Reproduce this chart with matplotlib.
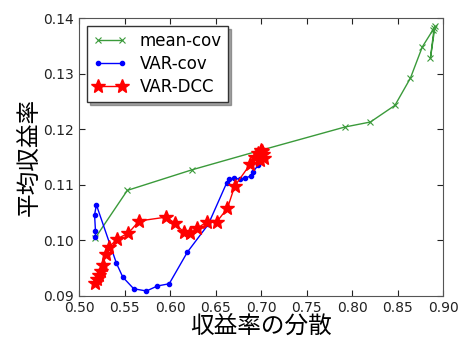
import matplotlib
matplotlib.use("Agg")
import matplotlib.pyplot as plt

plt.rcParams["font.family"] = ["Noto Sans CJK JP", "DejaVu Sans"]

# ----------------------------------------------------------------------
# Data (variance of return, mean return)
# ----------------------------------------------------------------------
mean_cov_x = [0.518, 0.553, 0.624, 0.695, 0.792, 0.820, 0.847, 0.864,
              0.877, 0.890, 0.886, 0.891, 0.889]
mean_cov_y = [0.1005, 0.1090, 0.1127, 0.1160, 0.1204, 0.1213, 0.1243, 0.1292,
              0.1348, 0.1382, 0.1328, 0.1385, 0.1378]

var_cov_x = [0.518, 0.518, 0.517, 0.519, 0.541, 0.548, 0.560, 0.574,
             0.586, 0.599, 0.619, 0.642, 0.662, 0.665, 0.670, 0.677,
             0.682, 0.689, 0.691, 0.697, 0.699]
var_cov_y = [0.1006, 0.1017, 0.1046, 0.1064, 0.0959, 0.0934, 0.0913, 0.0909,
             0.0918, 0.0922, 0.0979, 0.1029, 0.1103, 0.1110, 0.1112, 0.1110,
             0.1112, 0.1116, 0.1123, 0.1136, 0.1141]

var_dcc_x = [0.518, 0.520, 0.522, 0.524, 0.526, 0.530, 0.533, 0.542,
             0.554, 0.566, 0.596, 0.605, 0.615, 0.622, 0.630, 0.640,
             0.651, 0.663, 0.671, 0.688, 0.693, 0.697, 0.700, 0.702,
             0.703, 0.699, 0.701]
var_dcc_y = [0.0923, 0.0931, 0.0938, 0.0945, 0.0956, 0.0976, 0.0988, 0.1003,
             0.1013, 0.1035, 0.1042, 0.1031, 0.1015, 0.1013, 0.1022, 0.1033,
             0.1033, 0.1058, 0.1098, 0.1137, 0.1150, 0.1158, 0.1162, 0.1155,
             0.1148, 0.1145, 0.1160]

x_ticks = [0.50, 0.55, 0.60, 0.65, 0.70, 0.75, 0.80, 0.85, 0.90]
y_ticks = [0.09, 0.10, 0.11, 0.12, 0.13, 0.14]

# ----------------------------------------------------------------------
# Plot
# ----------------------------------------------------------------------
fig = plt.figure(figsize=(4.68, 3.41), dpi=100)
ax = fig.add_axes([0.169, 0.132, 0.778, 0.815])

ax.plot(mean_cov_x, mean_cov_y, color="#3a9a3a", lw=1.0, marker="x",
        ms=5, mew=0.8, label="mean-cov")
ax.plot(var_cov_x, var_cov_y, color="blue", lw=1.0, marker=".",
        ms=6, label="VAR-cov")
ax.plot(var_dcc_x, var_dcc_y, color="red", lw=1.0, marker="*",
        ms=10.5, label="VAR-DCC")

ax.set_xlim(0.50, 0.90)
ax.set_ylim(0.09, 0.14)
ax.set_xticks(x_ticks)
ax.set_yticks(y_ticks)
ax.set_xticklabels([f"{t:.2f}" for t in x_ticks], family="DejaVu Sans")
ax.set_yticklabels([f"{t:.2f}" for t in y_ticks], family="DejaVu Sans")
ax.tick_params(direction="in", top=True, right=True, labelsize=10,
               colors="#222222", length=4)
for sp in ax.spines.values():
    sp.set_color("#555555")

ax.set_xlabel("収益率の分散", fontsize=17, labelpad=0)
ax.set_ylabel("平均収益率", fontsize=17, labelpad=2)

leg = ax.legend(loc="upper left", numpoints=2, shadow=True, fancybox=False,
                prop={"family": "DejaVu Sans", "size": 12},
                borderaxespad=0.5, handlelength=2.0, labelspacing=0.3,
                borderpad=0.35)
leg.get_frame().set_edgecolor("#333333")

fig.savefig("out.png", dpi=100)
